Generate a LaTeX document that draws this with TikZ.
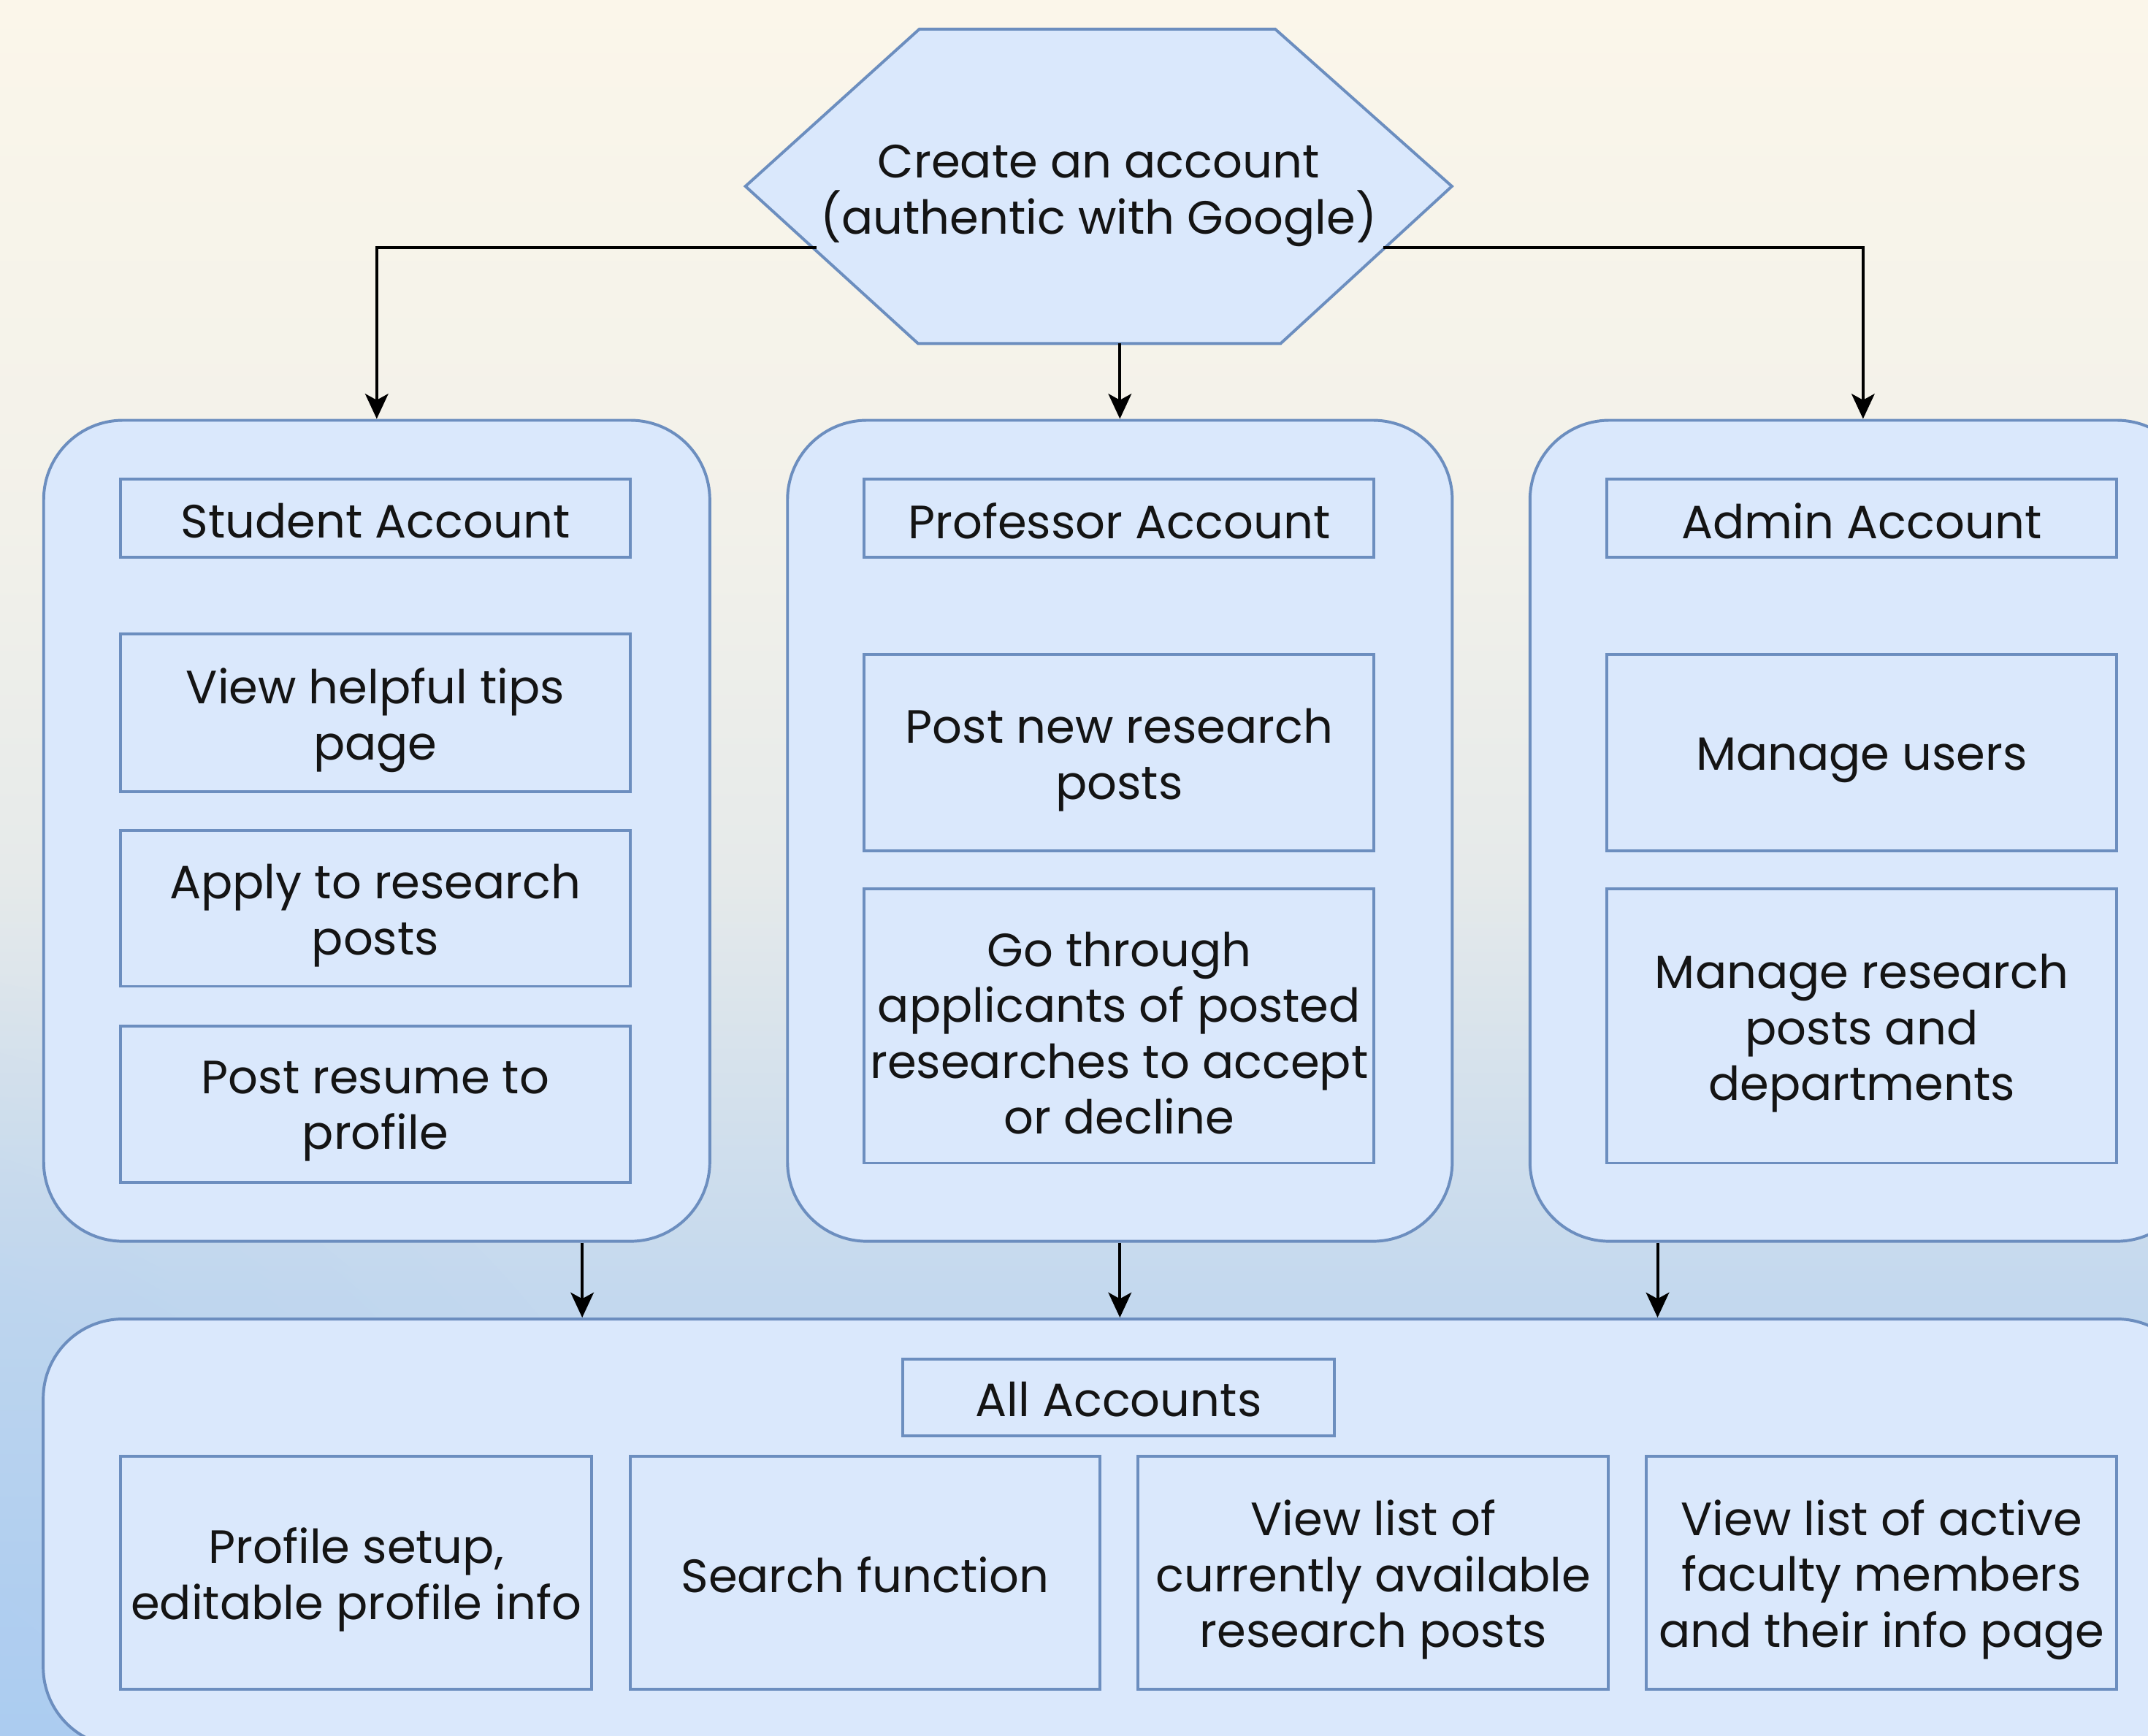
\documentclass[tikz,border=0pt]{standalone}
\usepackage{fontspec}
\setmainfont{Poppins}
\usetikzlibrary{arrows.meta,calc,fadings}
\definecolor{boxfill}{HTML}{DAE8FC}
\definecolor{boxline}{HTML}{6C8EBF}
\definecolor{txt}{HTML}{141414}
\definecolor{bgT}{HTML}{FBF6EA}
\definecolor{bgU}{HTML}{F2F1EA}
\definecolor{bgM}{HTML}{E6EAEA}
\definecolor{bgS}{HTML}{C3D8EE}
\definecolor{bgB}{HTML}{B0CEF0}
\definecolor{bgL}{HTML}{A6CAF2}
\pgfdeclareverticalshading{bgshade}{100bp}{color(0bp)=(bgB); color(25bp)=(bgB); color(37.5bp)=(bgS); color(50bp)=(bgM); color(60bp)=(bgU); color(75bp)=(bgT); color(100bp)=(bgT)}
\tikzfading[name=fadeC, inner color=transparent!0, outer color=transparent!100]
\begin{document}
\begin{tikzpicture}[x=0.01cm, y=-0.01cm,
  font=\fontsize{9.7}{11.6}\selectfont,
  cont/.style={draw=boxline, fill=boxfill, rounded corners=0.58cm, line width=0.6pt},
  ibox/.style={draw=boxline, fill=boxfill, line width=0.6pt, inner sep=0pt},
  lbl/.style={align=center, text=txt, inner sep=0pt, yshift=-1.5pt},
  lbs/.style={align=center, text=txt, inner sep=0pt, yshift=-0.5pt},
  arr/.style={-{Stealth[length=5.2pt,width=4.8pt,inset=1.3pt]}, line width=0.6pt, black},
  hexshape/.style={draw=boxline, fill=boxfill, line width=0.6pt}]
\useasboundingbox (0,0) rectangle (1568,1267);
\shade[shading=bgshade] (0,0) rectangle (1568,1267);
\fill[bgL, path fading=fadeC, fill opacity=0.55] (-150,1400) circle (7cm);

% hexagon
\path node (hex) at (802,136) [minimum width=5.14cm, minimum height=2.28cm, inner sep=0pt] {};
\draw[hexshape] (hex.west) -- ($(hex.north west)+(127,0)$) -- ($(hex.north east)+(-129,0)$) -- (hex.east)
  -- ($(hex.south east)+(-125,0)$) -- ($(hex.south west)+(126,0)$) -- cycle;
\node[align=center, text=txt] (hext) at (802,143) {Create an account\\(authentic with Google)};

% containers
\node[cont, minimum width=4.86cm, minimum height=5.99cm] (stc) at (275,606.5) {};
\node[cont, minimum width=4.85cm, minimum height=5.99cm] (prc) at (817.5,606.5) {};
\node[cont, minimum width=4.86cm, minimum height=5.99cm] (adc) at (1360,606.5) {};
\node[cont, minimum width=15.71cm, minimum height=3.12cm] (allc) at (817.5,1119) {};

% student column
\node[ibox, minimum width=3.72cm, minimum height=0.57cm, label={[lbs]center:Student Account}] (sa) at (274,378.5) {};
\node[ibox, minimum width=3.72cm, minimum height=1.15cm, label={[lbl]center:View helpful tips\\page}] (s1) at (274,520.5) {};
\node[ibox, minimum width=3.72cm, minimum height=1.14cm, label={[lbl]center:Apply to research\\posts}] (s2) at (274,663) {};
\node[ibox, minimum width=3.72cm, minimum height=1.14cm, label={[lbl]center:Post resume to\\profile}] (s3) at (274,806) {};

% professor column
\node[ibox, minimum width=3.72cm, minimum height=0.57cm, label={[lbs]center:Professor Account}] (pa) at (817,378.5) {};
\node[ibox, minimum width=3.72cm, minimum height=1.43cm, label={[lbl]center:Post new research\\posts}] (p1) at (817,549.5) {};
\node[ibox, minimum width=3.72cm, minimum height=2.00cm, label={[lbl]center:Go through\\applicants of posted\\researches to accept\\or decline}] (p2) at (817,749) {};

% admin column
\node[ibox, minimum width=3.72cm, minimum height=0.57cm, label={[lbs]center:Admin Account}] (aa) at (1359,378.5) {};
\node[ibox, minimum width=3.72cm, minimum height=1.43cm, label={[lbl]center:Manage users}] (a1) at (1359,549.5) {};
\node[ibox, minimum width=3.72cm, minimum height=2.00cm, label={[lbl]center:Manage research\\posts and\\departments}] (a2) at (1359,749) {};

% all accounts
\node[ibox, minimum width=3.15cm, minimum height=0.56cm, label={[lbs]center:All Accounts}] (al) at (816.5,1020) {};
\node[ibox, minimum width=3.44cm, minimum height=1.70cm, label={[lbl]center:Profile setup,\\editable profile info}] (b1) at (260,1148) {};
\node[ibox, minimum width=3.43cm, minimum height=1.70cm, label={[lbs]center:Search function}] (b2) at (631.5,1148) {};
\node[ibox, minimum width=3.43cm, minimum height=1.70cm, label={[lbl]center:View list of\\currently available\\research posts}] (b3) at (1002.5,1148) {};
\node[ibox, minimum width=3.43cm, minimum height=1.70cm, label={[lbl]center:View list of active\\faculty members\\and their info page}] (b4) at (1373.5,1148) {};

% connectors
\coordinate (hexL) at (596,181);
\coordinate (hexR) at (1010,181);
\draw[arr] (hexL) -| (stc.north);
\draw[arr] (hexR) -| (adc.north);
\draw[arr] (hex.south -| prc.north) -- (prc.north);
\coordinate (sb) at ($(stc.south)+(150,0)$);
\coordinate (ab) at ($(adc.south)+(-150,0)$);
\draw[arr] (sb) -- (sb |- allc.north);
\draw[arr] (prc.south) -- (allc.north -| prc.south);
\draw[arr] (ab) -- (ab |- allc.north);
\end{tikzpicture}
\end{document}
